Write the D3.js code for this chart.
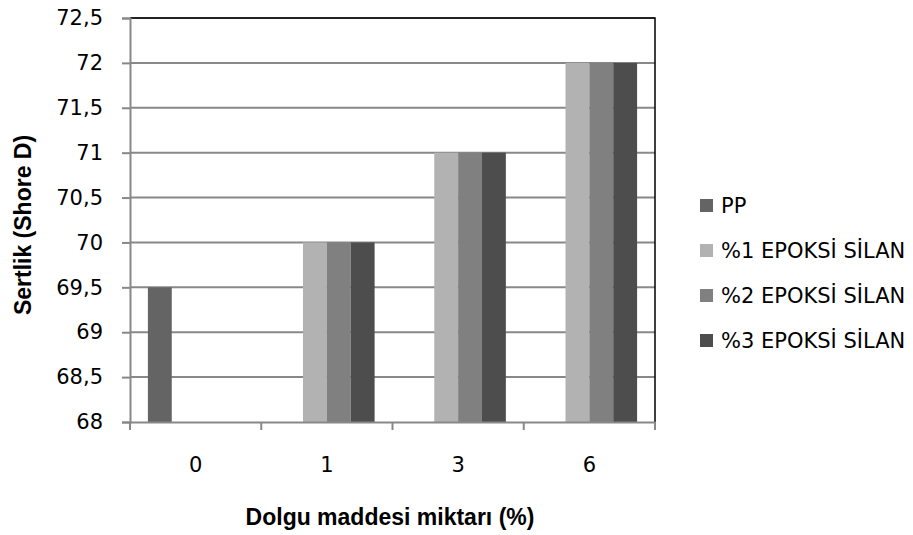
<!DOCTYPE html>
<html><head><meta charset="utf-8">
<script src="https://cdn.jsdelivr.net/npm/d3@7"></script>
<style>body{margin:0;background:#fff}svg{display:block}</style>
</head><body><svg id="c" width="913" height="535"></svg>
<script>
const categories = ["0","1","3","6"];
const seriesNames = ["PP","%1 EPOKSİ SİLAN","%2 EPOKSİ SİLAN","%3 EPOKSİ SİLAN"];
const ppValues = [69.5, null, null, null];
const epoksi1Values = [null, 70, 71, 72];
const epoksi2Values = [null, 70, 71, 72];
const epoksi3Values = [null, 70, 71, 72];
const yTicks = [68,68.5,69,69.5,70,70.5,71,71.5,72,72.5];
const colors = ["#646464","#b2b2b2","#808080","#4d4d4d"];

const allValues = [ppValues, epoksi1Values, epoksi2Values, epoksi3Values];
const FONT = "'DejaVu Sans', sans-serif";
const BFONT = "'Liberation Sans', Arial, sans-serif";
const svg = d3.select("#c");
const L=130, R=655, T=18, B=422;
const x0 = d3.scaleBand().domain(categories).range([L,R]).paddingInner(0).paddingOuter(0);
const bw0 = x0.bandwidth();
const gap = bw0/5.5*1.5;
const x1 = d3.scaleBand().domain(seriesNames).range([gap/2, bw0-gap/2]).padding(0);
const y = d3.scaleLinear().domain([68,72.5]).range([B,T]);

// gridlines
svg.append("g").selectAll("line").data(yTicks.slice(1)).join("line")
  .attr("x1",L).attr("x2",R).attr("y1",d=>y(d)).attr("y2",d=>y(d))
  .attr("stroke","#888").attr("stroke-width",2);

// bars
seriesNames.forEach((s,i)=>{
  svg.append("g").selectAll("rect").data(categories.map((c,j)=>({c,v:allValues[i][j]})).filter(d=>d.v!=null))
   .join("rect")
   .attr("x",d=>x0(d.c)+x1(s)).attr("width",x1.bandwidth())
   .attr("y",d=>y(d.v)).attr("height",d=>B-y(d.v)).attr("fill",colors[i]);
});

// border top/right
svg.append("path").attr("d",`M${L},${T}H${R}V${B}`).attr("fill","none").attr("stroke","#000").attr("stroke-width",1.5);

// y axis
const ya = svg.append("g").attr("transform",`translate(${L},0)`)
  .call(d3.axisLeft(y).tickValues(yTicks).tickSize(8).tickPadding(19).tickFormat(d=>String(d).replace(".",",")));
ya.select(".domain").attr("stroke","#888").attr("stroke-width",2);
ya.selectAll(".tick line").attr("stroke","#888").attr("stroke-width",2);
ya.selectAll("text").style("font-size","21px").attr("fill","#000").style("font-family",FONT);

// x axis
const xa = svg.append("g").attr("transform",`translate(0,${B})`)
  .call(d3.axisBottom(x0).tickSize(0).tickPadding(35));
xa.select(".domain").attr("stroke","#888").attr("stroke-width",2);
xa.selectAll("text").style("font-size","21px").attr("fill","#000").style("font-family",FONT);
const bounds = categories.map(c=>x0(c)).concat([R]);
svg.append("g").selectAll("line").data(bounds).join("line")
  .attr("x1",d=>d).attr("x2",d=>d).attr("y1",B).attr("y2",B+8)
  .attr("stroke","#888").attr("stroke-width",2);

// titles
svg.append("text").attr("x",390).attr("y",525).attr("text-anchor","middle")
  .style("font-family",BFONT).style("font-size","23px").style("font-weight","bold")
  .text("Dolgu maddesi miktarı (%)");
svg.append("text").attr("transform","translate(23,225) rotate(-90)").attr("text-anchor","middle")
  .attr("dominant-baseline","central")
  .style("font-family",BFONT).style("font-size","23px").style("font-weight","bold")
  .text("Sertlik (Shore D)");

// legend
const lg = svg.append("g").selectAll("g").data(seriesNames).join("g")
  .attr("transform",(d,i)=>`translate(700,${205.5+i*45})`);
lg.append("rect").attr("x",0).attr("y",-6.5).attr("width",13).attr("height",13).attr("fill",(d,i)=>colors[i]);
lg.append("text").attr("x",21).attr("y",0).attr("dy","0.36em")
  .style("font-family",FONT).style("font-size","21px").text(d=>d);
</script></body></html>
